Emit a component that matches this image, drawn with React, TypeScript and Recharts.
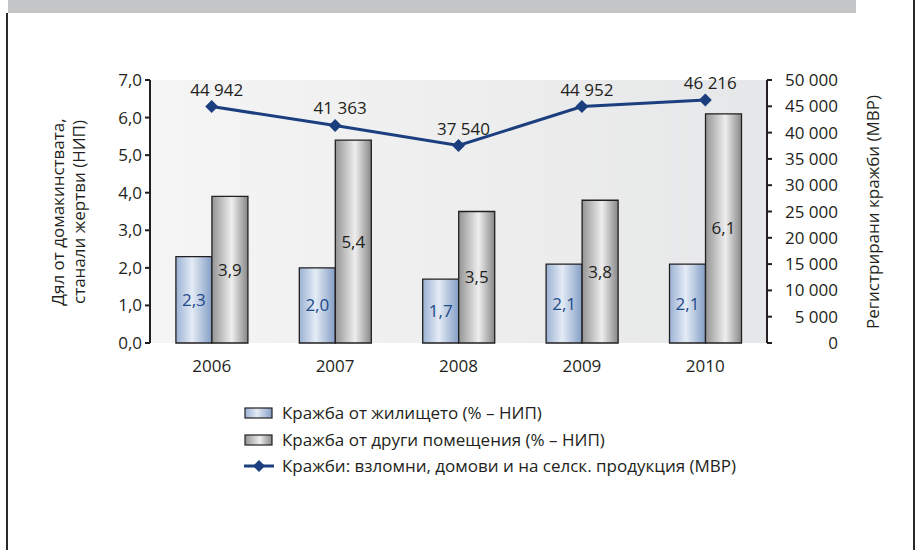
import React from "react";
import { ComposedChart, Bar, Line, XAxis, YAxis, CartesianGrid, LabelList, Legend } from "recharts";

const years = ["2006", "2007", "2008", "2009", "2010"];
const homeTheft = [2.3, 2.0, 1.7, 2.1, 2.1];
const otherTheft = [3.9, 5.4, 3.5, 3.8, 6.1];
const registered = [44942, 41363, 37540, 44952, 46216];
const leftTicks = [0, 1, 2, 3, 4, 5, 6, 7];
const rightTicks = [0, 5000, 10000, 15000, 20000, 25000, 30000, 35000, 40000, 45000, 50000];
const boundaryTicks = [0, 1, 2, 3, 4, 5];

const seriesNames = [
  "Кражба от жилището (% – НИП)",
  "Кражба от други помещения (% – НИП)",
  "Кражби: взломни, домови и на селск. продукция (МВР)",
];

const data = years.map((year, i) => ({
  year,
  home: homeTheft[i],
  other: otherTheft[i],
  reg: registered[i],
}));

const FONT = "'Open Sans', sans-serif";
const FS = 17;
const INK = "#231f20";
const NAVY = "#1b3f7e";

const comma = (v: number) => v.toFixed(1).replace(".", ",");
const thousands = (v: number) => String(v).replace(/\B(?=(\d{3})+(?!\d))/g, " ");

function Diamond(props: any) {
  const { cx, cy } = props;
  if (cx == null || cy == null) return null;
  const s = 6.5;
  return <polygon points={`${cx},${cy - s} ${cx + s},${cy} ${cx},${cy + s} ${cx - s},${cy}`} fill={NAVY} />;
}

function RightTick(props: any) {
  const { x, y, payload } = props;
  return (
    <text x={x + 64} y={y} dy={6} textAnchor="end" fontFamily={FONT} fontSize={FS} fill={INK}>
      {thousands(payload.value)}
    </text>
  );
}

function LegendBox() {
  const row = { display: "flex", alignItems: "center", height: 26.5 } as const;
  const icon = (kind: string) => {
    if (kind === "line")
      return (
        <svg width={30} height={14}>
          <line x1={0} y1={7} x2={30} y2={7} stroke={NAVY} strokeWidth={3} />
          <polygon points="15,1 21,7 15,13 9,7" fill={NAVY} />
        </svg>
      );
    return (
      <svg width={30} height={14}>
        <rect x={1} y={2} width={27} height={10} fill={`url(#${kind}Grad)`} stroke={INK} strokeWidth={1.2} />
      </svg>
    );
  };
  return (
    <div style={{ fontFamily: FONT, fontSize: FS, color: INK, lineHeight: "20px" }}>
      {["home", "other", "line"].map((k, i) => (
        <div key={k} style={row}>
          {icon(k)}
          <span style={{ marginLeft: 8 }}>{seriesNames[i]}</span>
        </div>
      ))}
    </div>
  );
}

export default function App() {
  return (
    <div style={{ position: "absolute", left: 0, top: 0, width: 918, height: 550, background: "#fff" }}>
      <div style={{ position: "absolute", left: 8, top: 0, width: 848, height: 13, background: "#c4c5c7" }} />
      <div style={{ position: "absolute", left: 6, top: 13, width: 2, height: 537, background: "#2a2a2a" }} />
      <div style={{ position: "absolute", left: 913, top: 0, width: 2, height: 550, background: "#2a2a2a" }} />
      <ComposedChart
        width={918}
        height={550}
        data={data}
        margin={{ top: 80, right: 91, bottom: 97, left: 90 }}
        barCategoryGap="21%"
        barGap={0}
        style={{ position: "absolute", left: 0, top: 0 }}
      >
        <defs>
          <linearGradient id="homeGrad" x1="0" y1="0" x2="1" y2="0">
            <stop offset="0%" stopColor="#9bb2d4" />
            <stop offset="45%" stopColor="#e4ebf5" />
            <stop offset="100%" stopColor="#839ec5" />
          </linearGradient>
          <linearGradient id="otherGrad" x1="0" y1="0" x2="1" y2="0">
            <stop offset="0%" stopColor="#949494" />
            <stop offset="55%" stopColor="#eeeeee" />
            <stop offset="100%" stopColor="#878787" />
          </linearGradient>
          <linearGradient id="plotGrad" x1="0" y1="0" x2="1" y2="0">
            <stop offset="0%" stopColor="#f5f5f5" />
            <stop offset="100%" stopColor="#e6e7e8" />
          </linearGradient>
        </defs>
        <CartesianGrid fill="url(#plotGrad)" horizontal={false} vertical={false} stroke="none" />
        <XAxis
          xAxisId="edges"
          type="number"
          domain={[0, 5]}
          ticks={boundaryTicks}
          height={0}
          tick={false}
          tickSize={6}
          axisLine={{ stroke: INK, strokeWidth: 2 }}
          tickLine={{ stroke: INK, strokeWidth: 2 }}
        />
        <XAxis
          xAxisId="cat"
          dataKey="year"
          height={30}
          axisLine={false}
          tickLine={false}
          tickSize={6}
          tickMargin={11}
          tick={{ fontFamily: FONT, fontSize: FS, fill: INK }}
        />
        <YAxis
          yAxisId="left"
          width={60}
          domain={[0, 7]}
          ticks={leftTicks}
          interval={0}
          tickFormatter={comma}
          tickSize={5}
          tickMargin={3}
          axisLine={{ stroke: INK, strokeWidth: 2 }}
          tickLine={{ stroke: INK, strokeWidth: 2 }}
          tick={{ fontFamily: FONT, fontSize: FS, fill: INK }}
          label={{
            content: () => (
              <g fontFamily={FONT} fontSize={FS} fill={INK}>
                <text x={57} y={212} textAnchor="middle" dominantBaseline="central" transform="rotate(-90 57 212)">
                  Дял от домакинствата,
                </text>
                <text x={78} y={212} textAnchor="middle" dominantBaseline="central" transform="rotate(-90 78 212)">
                  станали жертви (НИП)
                </text>
              </g>
            ),
          }}
        />
        <YAxis
          yAxisId="right"
          orientation="right"
          width={60}
          domain={[0, 50000]}
          ticks={rightTicks}
          interval={0}
          tickSize={5}
          tickMargin={2}
          axisLine={{ stroke: INK, strokeWidth: 2 }}
          tickLine={{ stroke: INK, strokeWidth: 2 }}
          tick={<RightTick />}
          label={{
            content: () => (
              <text
                x={872}
                y={212}
                textAnchor="middle"
                dominantBaseline="central"
                transform="rotate(-90 872 212)"
                fontFamily={FONT}
                fontSize={FS}
                fill={INK}
              >
                Регистрирани кражби (МВР)
              </text>
            ),
          }}
        />
        <Bar xAxisId="cat" yAxisId="left" dataKey="home" name={seriesNames[0]} fill="url(#homeGrad)" stroke={INK} strokeWidth={1.3} isAnimationActive={false}>
          <LabelList dataKey="home" position="center" formatter={(v: any) => comma(Number(v))} fill="#1d4a8a" fontFamily={FONT} fontSize={FS} />
        </Bar>
        <Bar xAxisId="cat" yAxisId="left" dataKey="other" name={seriesNames[1]} fill="url(#otherGrad)" stroke={INK} strokeWidth={1.3} isAnimationActive={false}>
          <LabelList dataKey="other" position="center" formatter={(v: any) => comma(Number(v))} fill={INK} fontFamily={FONT} fontSize={FS} />
        </Bar>
        <Line
          xAxisId="cat"
          yAxisId="right"
          dataKey="reg"
          name={seriesNames[2]}
          stroke={NAVY}
          strokeWidth={3}
          dot={<Diamond />}
          activeDot={false}
          isAnimationActive={false}
        >
          <LabelList
            dataKey="reg"
            content={(p: any) => (
              <text x={p.x + 5} y={p.y - 11} textAnchor="middle" fontFamily={FONT} fontSize={FS} fill={INK}>
                {thousands(Number(p.value))}
              </text>
            )}
          />
        </Line>
        <Legend
          content={() => <LegendBox />}
          wrapperStyle={{ position: "absolute", left: 244, top: 400, width: 600, height: 80 }}
        />
      </ComposedChart>
    </div>
  );
}
